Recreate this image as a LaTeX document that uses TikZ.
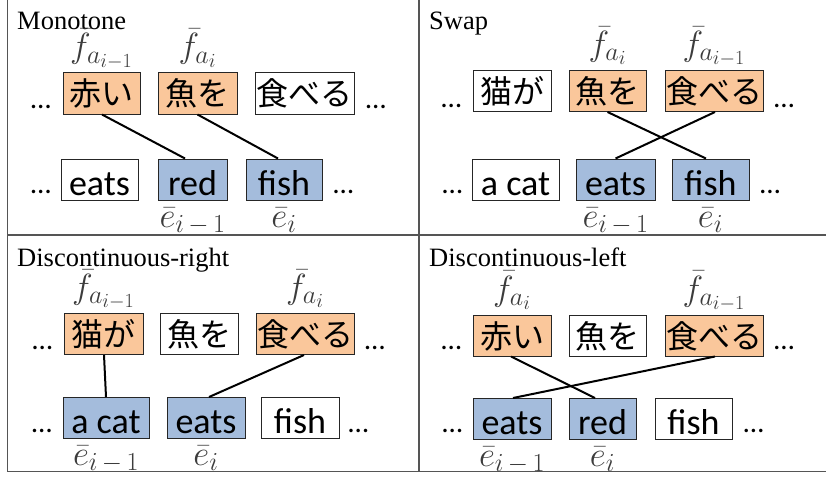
\RequirePackage{fix-cm}
\documentclass[tikz,border=0pt]{standalone}
\usepackage[no-math]{fontspec}
\setmainfont{Liberation Serif}
\newfontfamily\jpfont{Noto Sans CJK JP}
\newfontfamily\enfont{Carlito}
\DeclareMathSizes{35}{35}{26}{20}
\definecolor{forange}{HTML}{FAC79B}
\definecolor{eblue}{HTML}{A4BCDC}
\definecolor{framegray}{HTML}{555555}
\definecolor{labelgray}{HTML}{3C3C3C}
\newcommand{\labfim}{\bar f_{a_{i-1}}}
\newcommand{\labfi}{\bar f_{a_i}}
\newcommand{\labeim}{\bar e_{i\mskip3mu-\mskip3mu1}}
\newcommand{\labei}{\bar e_i}
\begin{document}
\begin{tikzpicture}[x=1pt,y=-1pt,
  wbox/.style={draw=black!85,line width=1pt,inner sep=0pt,minimum height=41pt},
  jp/.style={wbox,font=\jpfont\fontsize{32}{32}\selectfont,text height=33pt,text depth=8pt},
  en/.style={wbox,font=\enfont\fontsize{36}{36}\selectfont,text height=36pt,text depth=5pt},
  fsel/.style={fill=forange},
  esel/.style={fill=eblue},
  dots/.style={font=\enfont\fontsize{29}{29}\selectfont,inner sep=0pt,anchor=base},
  title/.style={font=\fontsize{26.5}{30}\selectfont,inner sep=0pt,anchor=base west},
  mlab/.style={text=labelgray,font=\fontsize{35}{40}\selectfont,inner sep=0pt,anchor=base},
  link/.style={line width=2pt,black},
  frame/.style={line width=1.5pt,framegray}]
\useasboundingbox (0,0) rectangle (826,476);
% frame
\coordinate (ftl) at (7.5,0);
\coordinate (fbl) at (7.5,471.5);
\coordinate (fbr) at (826,471.5);
\coordinate (fmt) at (419,0);
\coordinate (fmb) at (419,471.5);
\coordinate (fml) at (7.5,235);
\coordinate (fmr) at (826,235);
\draw[frame] (ftl) -- (fbl) -- (fbr);
\draw[frame] (fmt) -- (fmb);
\draw[frame] (fml) -- (fmr);
% ---------------- Monotone
\node[title] (t1) at (17,30) {Monotone};
\node[jp,fsel,minimum width=77pt] (m1) at (101.5,93.5) {赤い};
\node[jp,fsel,minimum width=79pt] (m2) at (197.5,93.5) {魚を};
\node[jp,minimum width=99pt] (m3) at (304.5,93.5) {食べる};
\node[en,minimum width=77pt] (m4) at (99.5,179.5) {eats};
\node[en,esel,minimum width=69pt] (m5) at (192.5,179.5) {red};
\node[en,esel,minimum width=76pt] (m6) at (284,179.5) {fish};
\node[dots] (md1) at (41,108) {…};
\node[dots] (md2) at (376,108) {…};
\node[dots] (md3) at (41,193) {…};
\node[dots] (md4) at (343.5,193) {…};
\node[mlab] (mf1) at ([yshift=14.5pt]m1.north) {$\labfim$};
\node[mlab] (mf2) at ([yshift=14.5pt]m2.north) {$\labfi$};
\node[mlab] (me1) at ([yshift=-27pt]m5.south) {$\labeim$};
\node[mlab] (me2) at ([yshift=-27pt]m6.south) {$\labei$};
\draw[link] ([xshift=0.5pt]m1.south) -- ([xshift=-7.5pt]m5.north);
\draw[link] (m2.south) -- ([xshift=-6pt]m6.north);
% ---------------- Swap
\node[title] (t2) at (429,30) {Swap};
\node[jp,minimum width=78pt] (s1) at (512,91) {猫が};
\node[jp,fsel,minimum width=77pt] (s2) at (607.5,91) {魚を};
\node[jp,fsel,minimum width=98pt] (s3) at (714,91) {食べる};
\node[en,minimum width=87pt] (s4) at (515.5,179.5) {a cat};
\node[en,esel,minimum width=79pt] (s5) at (615.5,179.5) {eats};
\node[en,esel,minimum width=77pt] (s6) at (710.5,179.5) {fish};
\node[dots] (sd1) at (451.5,107) {…};
\node[dots] (sd2) at (784,107) {…};
\node[dots] (sd3) at (452.5,193) {…};
\node[dots] (sd4) at (770,193) {…};
\node[mlab] (sf1) at ([yshift=14.5pt]s2.north) {$\labfi$};
\node[mlab] (sf2) at ([yshift=14.5pt]s3.north) {$\labfim$};
\node[mlab] (se1) at ([yshift=-27pt]s5.south) {$\labeim$};
\node[mlab] (se2) at ([yshift=-27pt]s6.south) {$\labei$};
\draw[link] (s2.south) -- ([xshift=-4.5pt]s6.north);
\draw[link] ([xshift=1pt]s3.south) -- (s5.north);
% ---------------- Discontinuous-right
\node[title] (t3) at (17,266) {Discontinuous-right};
\node[jp,fsel,minimum width=79pt] (r1) at (103.5,334) {猫が};
\node[jp,minimum width=78pt] (r2) at (199,334) {魚を};
\node[jp,fsel,minimum width=98pt] (r3) at (305,334) {食べる};
\node[en,esel,minimum width=86pt] (r4) at (106,418) {a cat};
\node[en,esel,minimum width=78pt] (r5) at (206,418) {eats};
\node[en,minimum width=78pt] (r6) at (300,418) {fish};
\node[dots] (rd1) at (42.5,349) {…};
\node[dots] (rd2) at (375,349) {…};
\node[dots] (rd3) at (42,432) {…};
\node[dots] (rd4) at (358.5,432) {…};
\node[mlab] (rf1) at ([yshift=14.5pt]r1.north) {$\labfim$};
\node[mlab] (rf2) at ([yshift=14.5pt]r3.north) {$\labfi$};
\node[mlab] (re1) at ([yshift=-26.5pt]r4.south) {$\labeim$};
\node[mlab] (re2) at ([yshift=-26.5pt]r5.south) {$\labei$};
\draw[link] ([xshift=0.5pt]r1.south) -- (r4.north);
\draw[link] ([xshift=-1pt]r3.south) -- ([xshift=3pt]r5.north);
% ---------------- Discontinuous-left
\node[title] (t4) at (429,266) {Discontinuous-left};
\node[jp,fsel,minimum width=78pt] (l1) at (512,335.5) {赤い};
\node[jp,minimum width=77pt] (l2) at (607.5,335.5) {魚を};
\node[jp,fsel,minimum width=98pt] (l3) at (714,335.5) {食べる};
\node[en,esel,minimum width=78pt] (l4) at (512,419) {eats};
\node[en,esel,minimum width=67pt] (l5) at (602.5,419) {red};
\node[en,minimum width=77pt] (l6) at (693.5,419) {fish};
\node[dots] (ld1) at (451.5,349) {…};
\node[dots] (ld2) at (784,349) {…};
\node[dots] (ld3) at (452.5,432) {…};
\node[dots] (ld4) at (753.5,432) {…};
\node[mlab] (lf1) at ([yshift=14.5pt]l1.north) {$\labfi$};
\node[mlab] (lf2) at ([yshift=14.5pt]l3.north) {$\labfim$};
\node[mlab] (le1) at ([yshift=-26.5pt]l4.south) {$\labeim$};
\node[mlab] (le2) at ([yshift=-26.5pt]l5.south) {$\labei$};
\draw[link] ([xshift=-1pt]l1.south) -- ([xshift=-7.5pt]l5.north);
\draw[link] ([xshift=1pt]l3.south) -- ([xshift=1pt]l4.north);
\end{tikzpicture}
\end{document}
